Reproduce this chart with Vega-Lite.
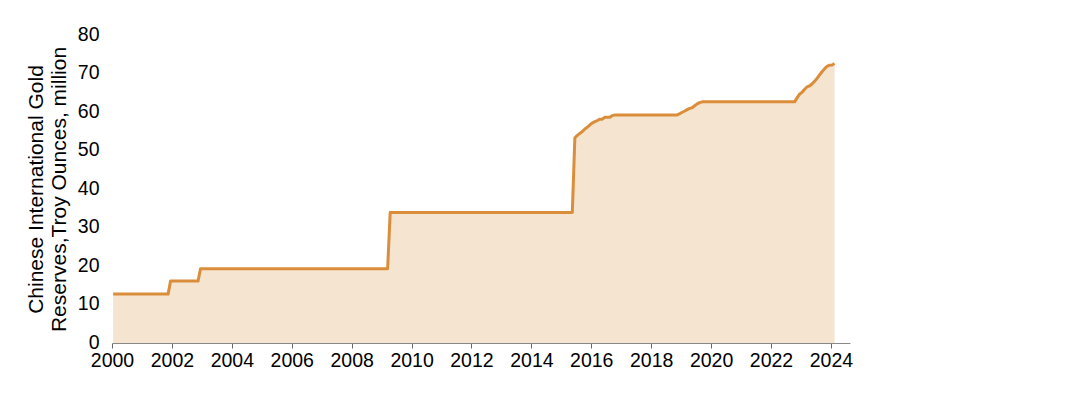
{
  "$schema": "https://vega.github.io/schema/vega-lite/v6.json",
  "autosize": "none",
  "width": 738,
  "height": 308,
  "padding": {"left": 112, "top": 35, "right": 238, "bottom": 57},
  "background": "white",
  "config": {"view": {"stroke": null}},
  "data": {
    "values": [
      {"date": "2000-01-15", "reserves": 12.70},
      {"date": "2001-11-15", "reserves": 12.70},
      {"date": "2001-12-15", "reserves": 16.08},
      {"date": "2002-11-15", "reserves": 16.08},
      {"date": "2002-12-15", "reserves": 19.29},
      {"date": "2009-03-15", "reserves": 19.29},
      {"date": "2009-04-15", "reserves": 33.89},
      {"date": "2015-05-15", "reserves": 33.89},
      {"date": "2015-06-15", "reserves": 53.31},
      {"date": "2015-07-15", "reserves": 53.93},
      {"date": "2015-08-15", "reserves": 54.45},
      {"date": "2015-09-15", "reserves": 54.93},
      {"date": "2015-10-15", "reserves": 55.59},
      {"date": "2015-11-15", "reserves": 56.07},
      {"date": "2015-12-15", "reserves": 56.66},
      {"date": "2016-01-15", "reserves": 57.18},
      {"date": "2016-02-15", "reserves": 57.51},
      {"date": "2016-03-15", "reserves": 57.79},
      {"date": "2016-04-15", "reserves": 58.14},
      {"date": "2016-05-15", "reserves": 58.14},
      {"date": "2016-06-15", "reserves": 58.62},
      {"date": "2016-07-15", "reserves": 58.62},
      {"date": "2016-08-15", "reserves": 58.62},
      {"date": "2016-09-15", "reserves": 59.06},
      {"date": "2016-10-15", "reserves": 59.24},
      {"date": "2018-11-15", "reserves": 59.24},
      {"date": "2018-12-15", "reserves": 59.56},
      {"date": "2019-01-15", "reserves": 59.94},
      {"date": "2019-02-15", "reserves": 60.26},
      {"date": "2019-03-15", "reserves": 60.62},
      {"date": "2019-04-15", "reserves": 60.94},
      {"date": "2019-05-15", "reserves": 61.10},
      {"date": "2019-06-15", "reserves": 61.61},
      {"date": "2019-07-15", "reserves": 62.10},
      {"date": "2019-08-15", "reserves": 62.45},
      {"date": "2019-09-15", "reserves": 62.64},
      {"date": "2022-10-15", "reserves": 62.64},
      {"date": "2022-11-15", "reserves": 63.67},
      {"date": "2022-12-15", "reserves": 64.64},
      {"date": "2023-01-15", "reserves": 65.12},
      {"date": "2023-02-15", "reserves": 65.92},
      {"date": "2023-03-15", "reserves": 66.50},
      {"date": "2023-04-15", "reserves": 66.76},
      {"date": "2023-05-15", "reserves": 67.27},
      {"date": "2023-06-15", "reserves": 67.95},
      {"date": "2023-07-15", "reserves": 68.69},
      {"date": "2023-08-15", "reserves": 69.62},
      {"date": "2023-09-15", "reserves": 70.46},
      {"date": "2023-10-15", "reserves": 71.20},
      {"date": "2023-11-15", "reserves": 71.87},
      {"date": "2023-12-15", "reserves": 72.15},
      {"date": "2024-01-15", "reserves": 72.19},
      {"date": "2024-02-15", "reserves": 72.58}
    ]
  },
  "mark": {
    "type": "area",
    "color": "#F5E4D0",
    "opacity": 1,
    "line": {"color": "#DA8E3B", "strokeWidth": 3, "strokeJoin": "round"}
  },
  "encoding": {
    "x": {
      "field": "date",
      "type": "temporal",
      "scale": {
        "type": "utc",
        "domain": [
          {"year": 2000, "month": 1, "date": 1, "utc": true},
          {"year": 2024, "month": 8, "date": 21, "utc": true}
        ]
      },
      "axis": {
        "title": null,
        "format": "%Y",
        "tickCount": {"interval": "year", "step": 2},
        "grid": false,
        "domainColor": "#888888",
        "domainWidth": 1,
        "tickColor": "#666666",
        "tickSize": 5,
        "labelFont": "Liberation Sans",
        "labelFontSize": 19.5,
        "labelColor": "#000000",
        "labelPadding": 3,
        "labelFlush": false,
        "labelOverlap": false
      }
    },
    "y": {
      "field": "reserves",
      "type": "quantitative",
      "scale": {"domain": [0, 80], "nice": false},
      "axis": {
        "title": ["Chinese International Gold", "Reserves,Troy Ounces, million"],
        "titleFont": "Liberation Sans",
        "titleFontSize": 21,
        "titleFontWeight": "normal",
        "titleColor": "#000000",
        "titleLineHeight": 23,
        "titlePadding": 8,
        "values": [0, 10, 20, 30, 40, 50, 60, 70, 80],
        "grid": false,
        "domain": false,
        "ticks": false,
        "labelFont": "Liberation Sans",
        "labelFontSize": 19.5,
        "labelColor": "#000000",
        "labelPadding": 13,
        "labelOffset": -1
      }
    }
  }
}
